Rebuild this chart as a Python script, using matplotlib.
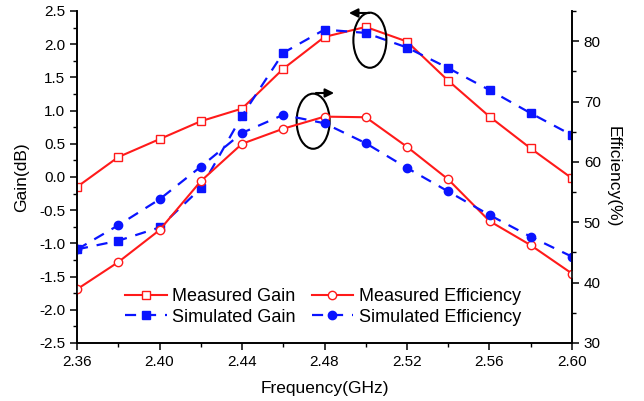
import numpy as np
import matplotlib.pyplot as plt
from matplotlib.patches import Ellipse
from matplotlib.ticker import MultipleLocator

plt.rcParams['font.family'] = ['Liberation Sans', 'DejaVu Sans']

freq = [2.36, 2.38, 2.40, 2.42, 2.44, 2.46, 2.48, 2.50, 2.52, 2.54, 2.56, 2.58, 2.60]
meas_gain = [-0.15, 0.30, 0.57, 0.84, 1.03, 1.63, 2.11, 2.26, 2.04, 1.45, 0.91, 0.43, -0.02]
sim_gain = [-1.09, -0.96, -0.76, -0.17, 0.92, 1.87, 2.22, 2.17, 1.95, 1.64, 1.31, 0.96, 0.63]
meas_eff = [38.9, 43.4, 48.7, 56.8, 63.0, 65.5, 67.5, 67.4, 62.5, 57.1, 50.2, 46.2, 41.5]
sim_eff = [45.5, 49.5, 53.8, 59.2, 64.8, 67.8, 66.4, 63.1, 59.0, 55.1, 51.2, 47.6, 44.3]

red = '#ff1a1a'
blue = '#0a14ff'

fig = plt.figure(figsize=(6.44, 4.01), dpi=100)
ax = fig.add_axes([77/644, 58/401, 495/644, 332/401])
ax2 = ax.twinx()

l1, = ax.plot(freq, meas_gain, '-', color=red, lw=1.5, marker='s', ms=6,
              mfc='white', mec=red, mew=1.0, label='Measured Gain')
l2, = ax.plot(freq, sim_gain, '--', color=blue, lw=1.6, marker='s', ms=6,
              mfc=blue, mec=blue, dashes=(5, 4), label='Simulated Gain')
l3, = ax2.plot(freq, meas_eff, '-', color=red, lw=1.5, marker='o', ms=6,
               mfc='white', mec=red, mew=1.0, label='Measured Efficiency')
l4, = ax2.plot(freq, sim_eff, '--', color=blue, lw=1.6, marker='o', ms=6,
               mfc=blue, mec=blue, dashes=(5, 4), label='Simulated Efficiency')

ax.set_xlim(2.36, 2.60)
ax.set_ylim(-2.5, 2.5)
ax2.set_ylim(30, 85)

ax.xaxis.set_major_locator(MultipleLocator(0.04))
ax.xaxis.set_minor_locator(MultipleLocator(0.02))
ax.yaxis.set_major_locator(MultipleLocator(0.5))
ax.yaxis.set_minor_locator(MultipleLocator(0.25))
ax2.yaxis.set_major_locator(MultipleLocator(10))
ax2.yaxis.set_minor_locator(MultipleLocator(5))
ax.xaxis.set_major_formatter(plt.FuncFormatter(lambda v, p: '%.2f' % v))
ax.yaxis.set_major_formatter(plt.FuncFormatter(lambda v, p: '%.1f' % v))

for a in (ax, ax2):
    a.spines['top'].set_visible(False)
    for s in a.spines.values():
        s.set_linewidth(1.2)
    a.tick_params(which='major', direction='out', length=5, width=1.1, labelsize=11)
    a.tick_params(which='minor', direction='out', length=3, width=1.0)

ax.set_xlabel('Frequency(GHz)', fontsize=12.5, labelpad=9)
ax.set_ylabel('Gain(dB)', fontsize=12.5, labelpad=7)
ax2.set_ylabel('Efficiency(%)', fontsize=12.5, rotation=270, labelpad=14)

# circles and arrows marking which axis each pair belongs to
ax.add_patch(Ellipse((2.502, 2.06), 0.016, 0.83, fill=False, ec='black', lw=1.5, zorder=5))
ax.annotate('', xy=(2.4905, 2.47), xytext=(2.503, 2.47),
            arrowprops=dict(arrowstyle='-|>', color='black', lw=1.5, mutation_scale=13))
ax.add_patch(Ellipse((2.4745, 0.84), 0.016, 0.83, fill=False, ec='black', lw=1.5, zorder=5))
ax.annotate('', xy=(2.486, 1.265), xytext=(2.4745, 1.265),
            arrowprops=dict(arrowstyle='-|>', color='black', lw=1.5, mutation_scale=13))

fig.legend(handles=[l1, l2, l3, l4], labels=[l.get_label() for l in (l1, l2, l3, l4)],
           ncol=2, frameon=False, fontsize=13, loc='upper left',
           bbox_to_anchor=(125/644, 1 - 288/401), handlelength=2.3,
           handletextpad=0.3, columnspacing=0.9, labelspacing=0.2,
           borderpad=0, borderaxespad=0)

fig.savefig('out.png', dpi=100)
